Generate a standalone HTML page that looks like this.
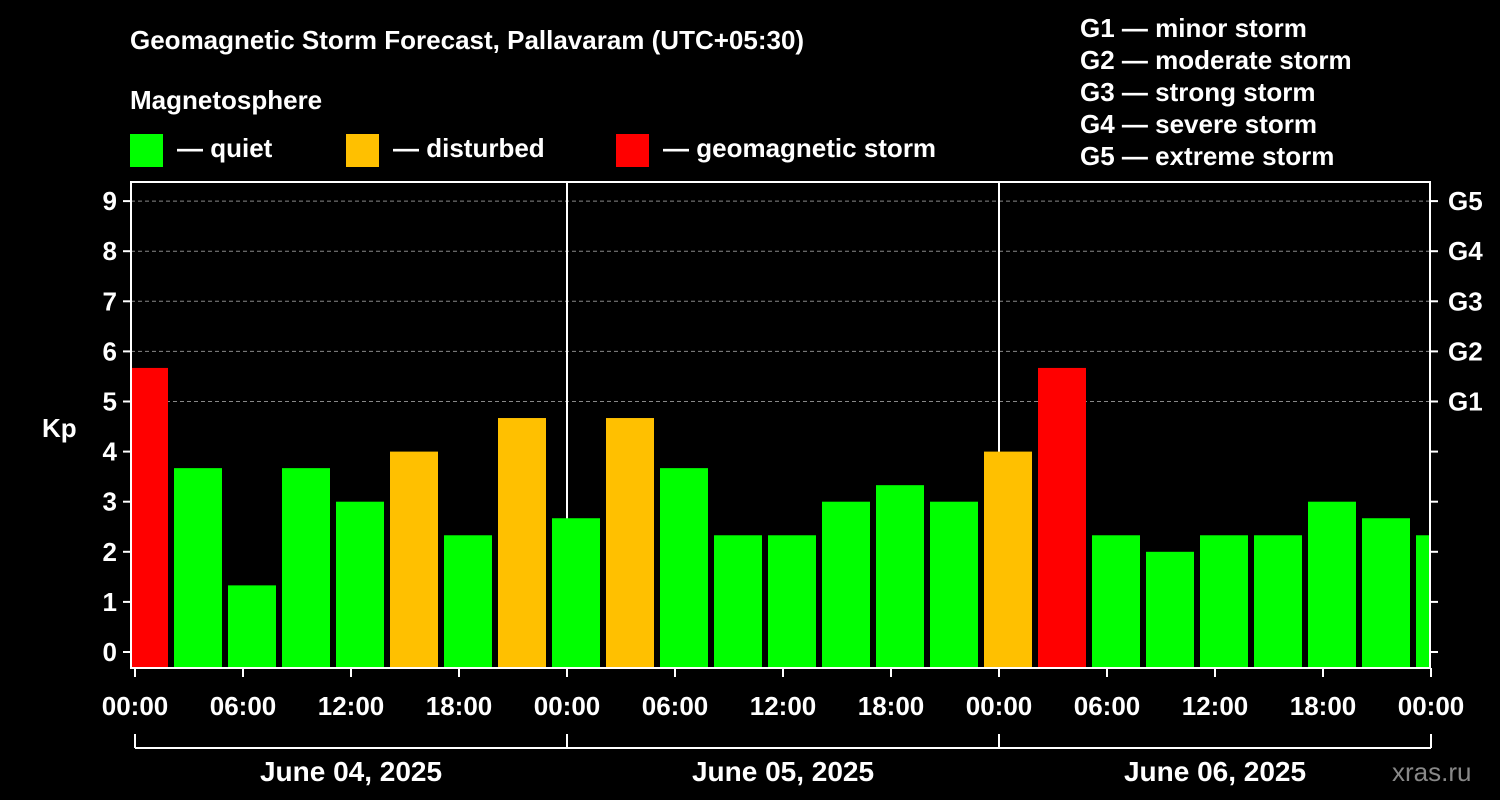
<!DOCTYPE html>
<html><head><meta charset="utf-8"><style>
html,body{margin:0;padding:0;background:#000;}
svg{display:block;font-family:"Liberation Sans",Arial,sans-serif;font-weight:bold;}
</style></head><body>
<svg id="chart" width="1500" height="800" viewBox="0 0 1500 800" xmlns="http://www.w3.org/2000/svg">
<rect width="1500" height="800" fill="#000"/>
<text x="130" y="49" fill="#fff" font-size="26">Geomagnetic Storm Forecast, Pallavaram (UTC+05:30)</text>
<text x="130" y="109" fill="#fff" font-size="26">Magnetosphere</text>
<g><rect x="130" y="134" width="33" height="33" fill="#00ff00"/><text x="177" y="157" fill="#fff" font-size="26">— quiet</text></g>
<g><rect x="346" y="134" width="33" height="33" fill="#ffc000"/><text x="393" y="157" fill="#fff" font-size="26">— disturbed</text></g>
<g><rect x="616" y="134" width="33" height="33" fill="#ff0000"/><text x="663" y="157" fill="#fff" font-size="26">— geomagnetic storm</text></g>
<g fill="#fff" font-size="26">
<text x="1080" y="37">G1 — minor storm</text>
<text x="1080" y="69">G2 — moderate storm</text>
<text x="1080" y="101">G3 — strong storm</text>
<text x="1080" y="133">G4 — severe storm</text>
<text x="1080" y="165">G5 — extreme storm</text>
</g>
<g id="grid"></g>
<g id="bars"></g>
<rect x="131" y="182" width="1299" height="486" fill="none" stroke="#fff" stroke-width="2"/>
<g id="axes"></g>
<text x="42" y="437" fill="#fff" font-size="26">Kp</text>
<text x="1392" y="781" fill="#888" font-size="26" font-weight="normal">xras.ru</text>
</svg>
<script>
const kpValues=[5.67,3.67,1.33,3.67,3,4,2.33,4.67,2.67,4.67,3.67,2.33,2.33,3,3.33,3,4,5.67,2.33,2,2.33,2.33,3,2.67,2.33];
const barHours=[0.5,3.5,6.5,9.5,12.5,15.5,18.5,21.5,24.5,27.5,30.5,33.5,36.5,39.5,42.5,45.5,48.5,51.5,54.5,57.5,60.5,63.5,66.5,69.5,72.5];
const yTicks=[0,1,2,3,4,5,6,7,8,9];
const gLabels=["G1","G2","G3","G4","G5"];
const xTickLabels=["00:00","06:00","12:00","18:00","00:00","06:00","12:00","18:00","00:00","06:00","12:00","18:00","00:00"];
const dayLabels=["June 04, 2025","June 05, 2025","June 06, 2025"];
const NS="http://www.w3.org/2000/svg";
const X0=135,PXH=18,Y0=652,PXK=50.1,L=131,R=1430;
const x=h=>X0+h*PXH, y=k=>Y0-k*PXK;
function mk(t,a,p){const e=document.createElementNS(NS,t);for(const k in a)e.setAttribute(k,a[k]);p.appendChild(e);return e;}
const grid=document.getElementById('grid'),bars=document.getElementById('bars'),axes=document.getElementById('axes');
for(let k=5;k<=9;k++){const l=mk('line',{x1:L,x2:R,y1:y(k),y2:y(k),stroke:'#888','stroke-dasharray':'4,3','stroke-width':1},grid);

}
for(const d of [1,2]){const l=mk('line',{x1:x(24*d),x2:x(24*d),y1:182,y2:668,stroke:'#fff','stroke-width':2},grid);

}
kpValues.forEach((v,i)=>{const c=barHours[i];let x1=Math.max(x(c)-24,L+1),x2=Math.min(x(c)+24,R-1);
const col=v>=5?'#ff0000':(v>=4?'#ffc000':'#00ff00');
const r=mk('rect',{x:x1,y:y(v),width:x2-x1,height:668-y(v),fill:col},bars);

});
yTicks.forEach(k=>{mk('line',{x1:L-8,x2:L,y1:y(k),y2:y(k),stroke:'#fff','stroke-width':2},axes);
mk('line',{x1:R,x2:R+8,y1:y(k),y2:y(k),stroke:'#fff','stroke-width':2},axes);
const t=mk('text',{x:117,y:y(k)+9,fill:'#fff','font-size':26,'text-anchor':'end'},axes);t.textContent=k;

});
gLabels.forEach((g,i)=>{const t=mk('text',{x:1448,y:y(5+i)+9,fill:'#fff','font-size':26},axes);t.textContent=g;

});
xTickLabels.forEach((s,i)=>{const xx=x(i*6);mk('line',{x1:xx,x2:xx,y1:668,y2:677,stroke:'#fff','stroke-width':2},axes);
const t=mk('text',{x:xx,y:715,fill:'#fff','font-size':26,'text-anchor':'middle'},axes);t.textContent=s;

});
mk('line',{x1:x(0),x2:x(72),y1:748,y2:748,stroke:'#fff','stroke-width':2},axes);
for(let d=0;d<=3;d++)mk('line',{x1:x(24*d),x2:x(24*d),y1:734,y2:748,stroke:'#fff','stroke-width':2},axes);
dayLabels.forEach((s,i)=>{const t=mk('text',{x:x(24*i+12),y:781,fill:'#fff','font-size':28,'text-anchor':'middle'},axes);t.textContent=s;

});
</script>
</body></html>
